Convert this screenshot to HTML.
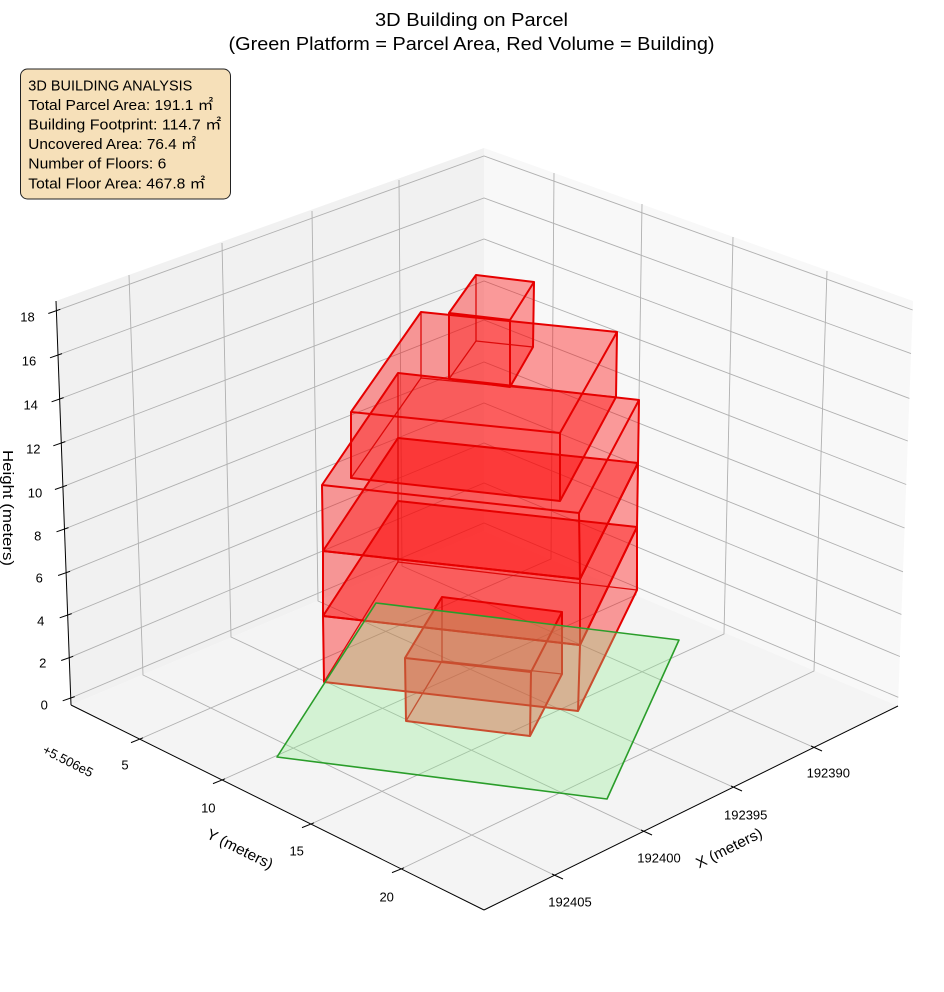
<!DOCTYPE html>
<html>
<head>
<meta charset="utf-8">
<style>
html,body{margin:0;padding:0;background:#fff;}
svg{display:block;}
</style>
</head>
<body>
<svg width="944" height="992" viewBox="0 0 944 992" xmlns="http://www.w3.org/2000/svg" font-family="'Liberation Sans','Noto Sans CJK JP',sans-serif">
<rect width="944" height="992" fill="#fff"/>

<!-- panes -->
<polygon points="71,705 56,301 484,148 484,531" fill="#f1f1f1"/>
<polygon points="484,531 484,148 913,301 898,706" fill="#f8f8f8"/>
<polygon points="71,705 484,531 898,706 484,910" fill="#f4f4f4"/>

<!-- gridlines -->
<g fill="none" stroke="#b0b0b0" stroke-width="0.9">
<polyline points="554,875 143,675 129,275"/>
<polyline points="643,831 231,637 222,243"/>
<polyline points="733,787 318,601 312,211"/>
<polyline points="813,747 402,566 399,180"/>
<polyline points="140,739 551,559 554,173"/>
<polyline points="222,780 636,595 642,204"/>
<polyline points="311,824 724,634 733,237"/>
<polyline points="401,869 814,671 827,271"/>
<polyline points="56.3,310.7 484,156 912.7,310"/>
<polyline points="58,355 484,198 911,353.6"/>
<polyline points="59.6,399 484,239 909.4,398.4"/>
<polyline points="61.3,443 484,281 907.8,441"/>
<polyline points="62.9,486.7 484,320 906.2,484.5"/>
<polyline points="64.5,529 484,362 904.6,528"/>
<polyline points="66.1,572.7 484,403 903,571.8"/>
<polyline points="67.7,615 484,443 901.4,614.4"/>
<polyline points="69.2,657.7 484,483 899.9,656.5"/>
<polyline points="70.7,698 484,523 898.3,697.3"/>
</g>

<!-- axis lines -->
<g stroke="#000" stroke-width="1" fill="none">
<line x1="56" y1="301" x2="71" y2="705"/>
<line x1="71" y1="705" x2="484" y2="910"/>
<line x1="484" y1="910" x2="898" y2="706"/>
<!-- z ticks -->
<line x1="48.3" y1="313.5" x2="60.3" y2="309.3"/>
<line x1="50" y1="357.8" x2="62" y2="353.6"/>
<line x1="51.6" y1="401.8" x2="63.6" y2="397.6"/>
<line x1="53.3" y1="445.8" x2="65.3" y2="441.6"/>
<line x1="54.9" y1="489.5" x2="66.9" y2="485.3"/>
<line x1="56.5" y1="531.8" x2="68.5" y2="527.6"/>
<line x1="58.1" y1="575.5" x2="70.1" y2="571.3"/>
<line x1="59.7" y1="617.8" x2="71.7" y2="613.6"/>
<line x1="61.2" y1="660.5" x2="73.2" y2="656.3"/>
<line x1="62.7" y1="700.8" x2="74.7" y2="696.6"/>
<!-- y ticks -->
<line x1="131" y1="742.6" x2="143" y2="737.8"/>
<line x1="213" y1="783.6" x2="225" y2="778.8"/>
<line x1="302" y1="827.6" x2="314" y2="822.8"/>
<line x1="392" y1="872.6" x2="404" y2="867.8"/>
<!-- x ticks -->
<line x1="811" y1="746" x2="822" y2="751"/>
<line x1="731" y1="786" x2="742" y2="791"/>
<line x1="641" y1="830" x2="652" y2="835"/>
<line x1="552" y1="874" x2="563" y2="879"/>
</g>

<!-- building faces -->
<g fill="#ff0000" fill-opacity="0.21" stroke="none">
<!-- ground box -->
<polygon points="405,658 442,597 562,612 531,672"/>
<polygon points="406,721 442,661 562,674 530,736"/>
<polygon points="405,658 531,672 530,736 406,721"/>
<polygon points="442,597 562,612 562,674 442,661"/>
<polygon points="405,658 442,597 442,661 406,721"/>
<polygon points="531,672 562,612 562,674 530,736"/>
<!-- B1 z3-6 -->
<polygon points="323,616 398,501 637,527 580,645"/>
<polygon points="324,682 398,562 637,590 578,711"/>
<polygon points="323,616 580,645 578,711 324,682"/>
<polygon points="398,501 637,527 637,590 398,562"/>
<polygon points="323,616 398,501 398,562 324,682"/>
<polygon points="580,645 637,527 637,590 578,711"/>
<!-- B2 z6-9 -->
<polygon points="323,551 398,438 638,463 580,579"/>
<polygon points="323,616 398,501 637,527 580,645"/>
<polygon points="323,551 580,579 580,645 323,616"/>
<polygon points="398,438 638,463 637,527 398,501"/>
<polygon points="323,551 398,438 398,501 323,616"/>
<polygon points="580,579 638,463 637,527 580,645"/>
<!-- B3 z9-12 -->
<polygon points="322,485 398,373 639,400 579,513"/>
<polygon points="323,551 398,438 638,463 580,579"/>
<polygon points="322,485 579,513 580,579 323,551"/>
<polygon points="398,373 639,400 638,463 398,438"/>
<polygon points="322,485 398,373 398,438 323,551"/>
<polygon points="579,513 639,400 638,463 580,579"/>
<!-- M z12-15 -->
<polygon points="351,412 421,312 617,332 560,433"/>
<polygon points="351,478 421,378 616,397 560,501"/>
<polygon points="351,412 560,433 560,501 351,478"/>
<polygon points="421,312 617,332 616,397 421,378"/>
<polygon points="351,412 421,312 421,378 351,478"/>
<polygon points="560,433 617,332 616,397 560,501"/>
<!-- P z15-18 -->
<polygon points="449,313 476,275 534,282 510,320"/>
<polygon points="449,379 476,341 533,347 510,387"/>
<polygon points="449,313 510,320 510,387 449,379"/>
<polygon points="476,275 534,282 533,347 476,341"/>
<polygon points="449,313 476,275 476,341 449,379"/>
<polygon points="510,320 534,282 533,347 510,387"/>
</g>

<!-- building edges: hidden (thin) -->
<g fill="none" stroke="#dd0a0a" stroke-width="1.3" stroke-linejoin="round">
<polyline points="442,597 442,661"/><polyline points="406,721 442,661 562,674"/>
<polyline points="398,501 398,562"/><polyline points="324,682 398,562 637,590"/>
<polyline points="398,438 398,501"/><polyline points="323,616 398,501 637,527"/>
<polyline points="398,373 398,438"/><polyline points="323,551 398,438 638,463"/>
<polyline points="421,312 421,378"/><polyline points="351,478 421,378 616,397"/>
<polyline points="476,275 476,341"/><polyline points="449,379 476,341 533,347"/>
</g>
<!-- building edges: visible (thick) -->
<g fill="none" stroke="#e60000" stroke-width="2" stroke-linejoin="round">
<polygon points="405,658 442,597 562,612 531,672"/>
<polyline points="405,658 406,721 530,736 562,674 562,612"/><line x1="531" y1="672" x2="530" y2="736"/>
<polygon points="323,616 398,501 637,527 580,645"/>
<polyline points="323,616 324,682 578,711 637,590 637,527"/><line x1="580" y1="645" x2="578" y2="711"/>
<polygon points="323,551 398,438 638,463 580,579"/>
<polyline points="323,551 323,616 580,645 637,527 638,463"/><line x1="580" y1="579" x2="580" y2="645"/>
<polygon points="322,485 398,373 639,400 579,513"/>
<polyline points="322,485 323,551 580,579 638,463 639,400"/><line x1="579" y1="513" x2="580" y2="579"/>
<polygon points="351,412 421,312 617,332 560,433"/>
<polyline points="351,412 351,478 560,501 616,397 617,332"/><line x1="560" y1="433" x2="560" y2="501"/>
<polygon points="449,313 476,275 534,282 510,320"/>
<polyline points="449,313 449,379 510,387 533,347 534,282"/><line x1="510" y1="320" x2="510" y2="387"/>
</g>

<!-- green platform -->
<polygon points="277,757 376,603 679,640 607,799" fill="#90ee90" fill-opacity="0.32" stroke="#2a9d2a" stroke-width="1.6" stroke-linejoin="round"/>

<!-- tick labels -->
<g font-size="13" fill="#000" text-anchor="middle">
<text x="27.5" y="321.3">18</text>
<text x="29" y="365.6">16</text>
<text x="30.7" y="409.6">14</text>
<text x="33.3" y="453.6">12</text>
<text x="35" y="497.3">10</text>
<text x="37.7" y="540.6">8</text>
<text x="39.3" y="582.6">6</text>
<text x="40.7" y="625.6">4</text>
<text x="42.7" y="667.6">2</text>
<text x="44.3" y="709.6">0</text>
<text x="125" y="769.6">5</text>
<text x="208.3" y="812.3">10</text>
<text x="296.7" y="855.3">15</text>
<text x="386.7" y="901.3">20</text>
<text x="828.3" y="777.3">192390</text>
<text x="745.7" y="819.6">192395</text>
<text x="659" y="862.3">192400</text>
<text x="570" y="906.3">192405</text>
<text transform="translate(68,761) rotate(27)" y="4.5">+5.506e5</text>
</g>

<!-- axis labels -->
<g font-size="15" fill="#000" text-anchor="middle">
<text transform="translate(240,849) rotate(26.4)" y="5" textLength="72" lengthAdjust="spacingAndGlyphs">Y (meters)</text>
<text transform="translate(729,848) rotate(-26.4)" y="5" textLength="72" lengthAdjust="spacingAndGlyphs">X (meters)</text>
<text transform="translate(3,508) rotate(90)" y="0" textLength="116" lengthAdjust="spacingAndGlyphs">Height (meters)</text>
</g>

<!-- title -->
<g font-size="18.5" fill="#000" text-anchor="middle">
<text x="471.5" y="26" textLength="193" lengthAdjust="spacingAndGlyphs">3D Building on Parcel</text>
<text x="471.5" y="50" textLength="486" lengthAdjust="spacingAndGlyphs">(Green Platform = Parcel Area, Red Volume = Building)</text>
</g>

<!-- info box -->
<rect x="20.5" y="69" width="210" height="130" rx="7" ry="7" fill="#f6e0b9" stroke="#222" stroke-width="1"/>
<g font-size="14.5" fill="#000">
<text x="28.3" y="90.7" textLength="164" lengthAdjust="spacingAndGlyphs">3D BUILDING ANALYSIS</text>
<text x="28.3" y="110" textLength="185" lengthAdjust="spacingAndGlyphs">Total Parcel Area: 191.1 ㎡</text>
<text x="28.3" y="129.3" textLength="193" lengthAdjust="spacingAndGlyphs">Building Footprint: 114.7 ㎡</text>
<text x="28.3" y="149" textLength="168" lengthAdjust="spacingAndGlyphs">Uncovered Area: 76.4 ㎡</text>
<text x="28.3" y="168.7" textLength="138" lengthAdjust="spacingAndGlyphs">Number of Floors: 6</text>
<text x="28.3" y="188.3" textLength="177" lengthAdjust="spacingAndGlyphs">Total Floor Area: 467.8 ㎡</text>
</g>
</svg>
</body>
</html>
